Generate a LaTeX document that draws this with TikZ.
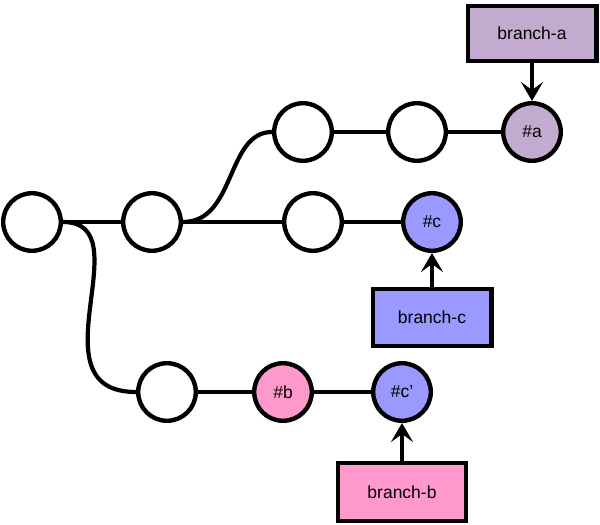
\documentclass[tikz,border=0pt]{standalone}
\usepackage{fontspec}
\setmainfont{Liberation Sans}
\usetikzlibrary{arrows.meta,positioning}

\definecolor{tipa}{HTML}{C3ABD0}
\definecolor{tipc}{HTML}{9999FF}
\definecolor{tipb}{HTML}{FF99CC}

\begin{document}
\begin{tikzpicture}[
    x=1pt, y=1pt,
    node distance=55pt,
    commit/.style={draw, circle, line width=4.4pt, minimum size=57.6pt, inner sep=0pt, fill=white, font=\fontsize{17.5}{21}\selectfont},
    ref/.style={draw, rectangle, line width=4.4pt, minimum height=55pt, inner sep=0pt, font=\fontsize{17.5}{21}\selectfont},
    edge/.style={line width=4.2pt},
    point/.style={-{Stealth[length=19pt, width=22pt, inset=8pt]}, line width=4.2pt}
]
\useasboundingbox (0,0) rectangle (600,525);
% main line
\node[commit] (c0) at (32,303) {};
\node[commit, right=58pt of c0] (c1) {};
\node[commit, right=99pt of c1] (m1) {};
\node[commit, right=57pt of m1, fill=tipc] (mc) {\#c};
% upper branch
\node[commit] (t1) at (303,393) {};
\node[commit, right=52pt of t1] (t2) {};
\node[commit, right=53pt of t2, fill=tipa] (ta) {\#a};
% lower branch
\node[commit] (b1) at (167,133) {};
\node[commit, right=54pt of b1, fill=tipb] (bb) {\#b};
\node[commit, right=57pt of bb, fill=tipc] (bc) {\#c'};
% branch labels
\node[ref, above=38pt of ta, fill=tipa, minimum width=128.6pt] (refa) {branch-a};
\node[ref, below=34pt of mc, fill=tipc, minimum width=118.6pt, minimum height=56.6pt] (refc) {branch-c};
\node[ref, below=38pt of bc, fill=tipb, minimum width=127.6pt, minimum height=57.6pt] (refb) {branch-b};

\draw[edge] (c0) -- (c1);
\draw[edge] (c1) -- (m1);
\draw[edge] (m1) -- (mc);
\draw[edge] (t1) -- (t2);
\draw[edge] (t2) -- (ta);
\draw[edge] (b1) -- (bb);
\draw[edge] (bb) -- (bc);
\draw[edge] (c1.east) .. controls +(53,0) and +(-46,0) .. (t1.west);
\draw[edge] (c0.east) .. controls +(81,0) and +(-106,0) .. (b1.west);

\draw[point] (refa) -- (ta);
\draw[point] (refc) -- (mc);
\draw[point] (refb) -- (bc);
\end{tikzpicture}
\end{document}
